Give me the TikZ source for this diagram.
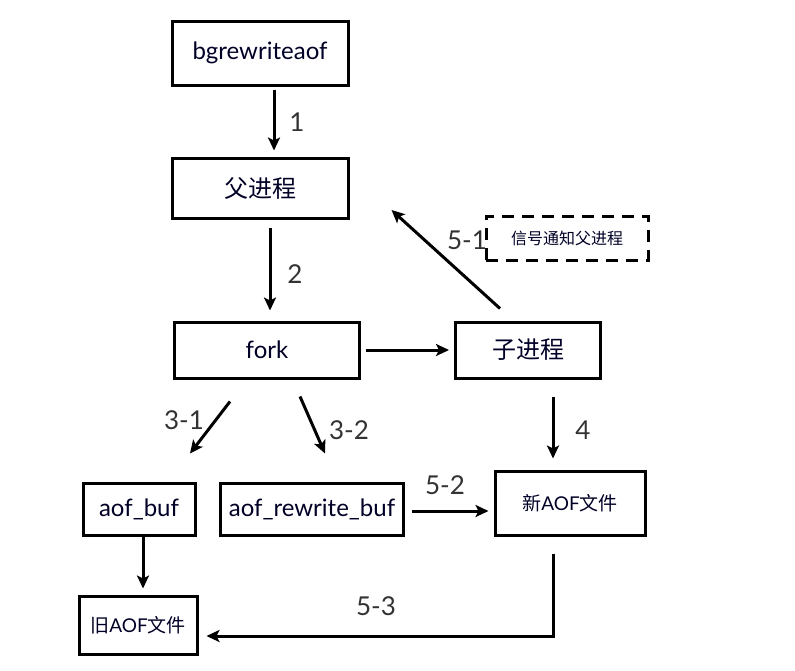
\documentclass[tikz,border=0pt]{standalone}
\usepackage{fontspec}
\setmainfont{Lato}
\newfontfamily\cjk{Noto Sans CJK SC}
\usetikzlibrary{shapes,arrows.meta}

\begin{document}
\begin{tikzpicture}[x=1pt,y=-1pt]
\tikzstyle{box}=[rectangle,draw,line width=3pt,minimum width=150,minimum height=58,text=black!70!blue!50!black,font=\fontsize{24}{28}\selectfont,inner sep=0pt]
\tikzstyle{arr}=[-{Stealth[length=13pt,width=12pt,inset=3pt]},line width=3pt]
\tikzstyle{num}=[font=\fontsize{26}{30}\selectfont,text=black!80]
\useasboundingbox (0,0) rectangle (795,670);
\node[box,minimum width=176,minimum height=64] (bg) at (260,53) {bgrewriteaof};
\node[box,minimum width=176,minimum height=60] (fu) at (260,188) {\cjk 父进程};
\node[box,minimum width=185,minimum height=56] (fork) at (267,350) {fork};
\node[box,minimum width=145,minimum height=56] (zi) at (528,350) {\cjk 子进程};
\node[box,dashed,dash pattern=on 12pt off 8pt,minimum width=162,minimum height=44,font=\cjk\fontsize{16}{19}\selectfont] (signal) at (567,238) {信号通知父进程};
\node[box,minimum width=112,minimum height=52] (aofbuf) at (139,509) {aof\_buf};
\node[box,minimum width=183,minimum height=52] (rewbuf) at (312,509) {aof\_rewrite\_buf};
\node[box,minimum width=150,minimum height=64,font=\fontsize{19}{22}\selectfont] (newaof) at (570,503) {{\cjk 新}AOF{\cjk 文件}};
\node[box,minimum width=118,minimum height=58,font=\fontsize{19}{22}\selectfont] (oldaof) at (138,625) {{\cjk 旧}AOF{\cjk 文件}};

\draw[arr,shorten <=3pt,shorten >=6pt] ([xshift=14]bg.south) -- ([xshift=14]bg.south |- fu.north);
\node[num] (n1) at (297,122) {1};
\draw[arr,shorten <=8pt,shorten >=10pt] ([xshift=10]fu.south) -- ([xshift=10]fu.south |- fork.north);
\node[num] (n2) at (295,274) {2};
\draw[arr,shorten <=5pt,shorten >=5pt] (fork.east) -- (fork.east -| zi.west);
\draw[arr] ([shift={(-28,-12)}]zi.north) -- ([shift={(42,22)}]fu.east);
\node[num] (n51) at (467,240) {5-1};
\draw[arr] ([shift={(-37,22)}]fork.south) -- ([shift={(51,-28)}]aofbuf.north);
\node[num] (n31) at (184,420) {3-1};
\draw[arr] ([shift={(33,17)}]fork.south) -- ([shift={(13,-28)}]rewbuf.north);
\node[num] (n32) at (349,430) {3-2};
\draw[arr] ([shift={(25,17)}]zi.south) -- ([shift={(-17,-11)}]newaof.north);
\node[num] (n4) at (583,430) {4};
\draw[arr,shorten <=7pt,shorten >=5pt] ([yshift=-2]rewbuf.east) -- ([yshift=-2]rewbuf.east -| newaof.west);
\node[num] (n52) at (445,485) {5-2};
\draw[arr,shorten >=6pt] ([xshift=4]aofbuf.south) -- ([xshift=4]aofbuf.south |- oldaof.north);
\draw[arr] ([shift={(-17,17)}]newaof.south) |- ([shift={(8,11)}]oldaof.east);
\node[num] (n53) at (376,606) {5-3};
\end{tikzpicture}
\end{document}
